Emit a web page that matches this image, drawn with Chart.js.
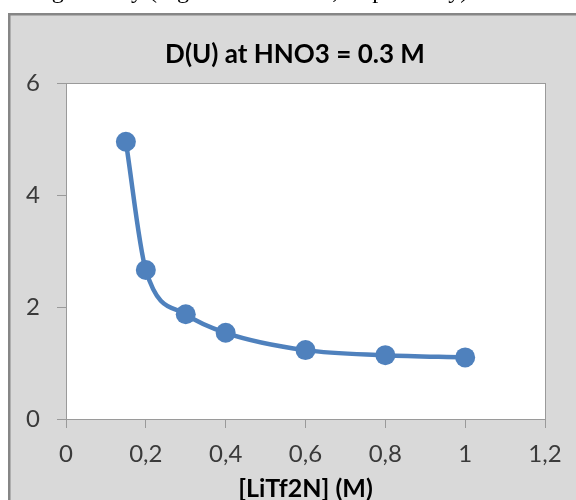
<!DOCTYPE html>
<html>
<head>
<meta charset="utf-8">
<script src="https://cdn.jsdelivr.net/npm/chart.js@4.4.1/dist/chart.umd.min.js"></script>
<style>
  html, body { margin: 0; padding: 0; background: #fff; overflow: hidden; }
  #wrap { position: relative; width: 576px; height: 500px; }
  #doc { position: absolute; top: -22px; white-space: nowrap; font: 24px/24px "Liberation Serif", serif; color: #000; z-index: 2; }
</style>
</head>
<body>
<div id="wrap">
  <div id="doc"><span id="pre">increasi</span>ng linearly (Figure 4.4 and 4.5, respectively).</div>
  <canvas id="chart"></canvas>
</div>
<script>
// data
const concLiTf2N = [0.15, 0.2, 0.3, 0.4, 0.6, 0.8, 1.0];
const distU = [4.95, 2.66, 1.87, 1.54, 1.23, 1.14, 1.10];
const xTicks = [0, 0.2, 0.4, 0.6, 0.8, 1, 1.2];
const yTicks = [0, 2, 4, 6];
const chartTitle = 'D(U) at HNO3 = 0.3 M';

// line up the cropped caption text above the chart
const pre = document.getElementById('pre');
document.getElementById('doc').style.left = (40 - pre.offsetWidth) + 'px';

const BLUE = '#4F81BD';
const AXIS = '#9a9a9a';
const comma = v => String(+Number(v).toFixed(1)).replace('.', ',');

const frame = {
    id: 'frame',
    beforeDraw(chart) {
        const { ctx, chartArea: a } = chart;
        ctx.save();
        ctx.fillStyle = '#D9D9D9';
        ctx.fillRect(9, 13, 600, 520);
        ctx.strokeStyle = '#868686';
        ctx.lineWidth = 2.5;
        ctx.strokeRect(9.25, 14.25, 600, 520);
        ctx.fillStyle = '#fff';
        ctx.fillRect(a.left, a.top, a.right - a.left, a.bottom - a.top);
        // chart title, centred on the whole chart box
        ctx.fillStyle = '#000';
        ctx.font = 'bold 26px Lato';
        ctx.textAlign = 'center';
        ctx.textBaseline = 'middle';
        ctx.fillText(chartTitle, 295, 54.5);
        ctx.restore();
    },
    afterDatasetsDraw(chart) {
        const { ctx, chartArea: a } = chart;
        ctx.save();
        ctx.strokeStyle = AXIS;
        ctx.lineWidth = 1;
        ctx.strokeRect(a.left + 0.5, a.top + 0.5, a.right - a.left, a.bottom - a.top);
        ctx.restore();
    }
};

new Chart(document.getElementById('chart'), {
    type: 'scatter',
    data: {
        datasets: [{
            data: concLiTf2N.map((x, i) => ({ x, y: distU[i] })),
            showLine: true,
            borderColor: BLUE,
            backgroundColor: BLUE,
            borderWidth: 4.5,
            pointRadius: 10,
            pointHoverRadius: 10,
            pointBorderWidth: 0,
            cubicInterpolationMode: 'monotone'
        }]
    },
    options: {
        responsive: true,
        maintainAspectRatio: false,
        animation: false,
        layout: { padding: { top: 83, right: 31, left: 0, bottom: 0 } },
        plugins: {
            legend: { display: false },
            tooltip: { enabled: false },
            title: { display: false }
        },
        scales: {
            x: {
                type: 'linear',
                min: 0,
                max: 1.2,
                afterFit: s => { s.height = 81; },
                afterBuildTicks: s => { s.ticks = xTicks.map(value => ({ value })); },
                grid: { drawOnChartArea: false, tickLength: 9, color: AXIS },
                border: { color: AXIS },
                ticks: { padding: 12, color: '#3a3a3a', font: { family: 'Lato', size: 24 }, callback: comma, maxRotation: 0 },
                title: { display: true, text: '[LiTf2N] (M)', color: '#000', font: { family: 'Lato', size: 25, weight: 'bold' }, padding: { top: 0, bottom: -3.5 } }
            },
            y: {
                type: 'linear',
                min: 0,
                max: 6,
                afterFit: s => { s.width = 66; },
                afterBuildTicks: s => { s.ticks = yTicks.map(value => ({ value })); },
                grid: { drawOnChartArea: false, tickLength: 9, color: AXIS },
                border: { color: AXIS },
                ticks: { padding: 17, color: '#3a3a3a', font: { family: 'Lato', size: 24 }, callback: comma }
            }
        }
    },
    plugins: [frame]
});
</script>
</body>
</html>
